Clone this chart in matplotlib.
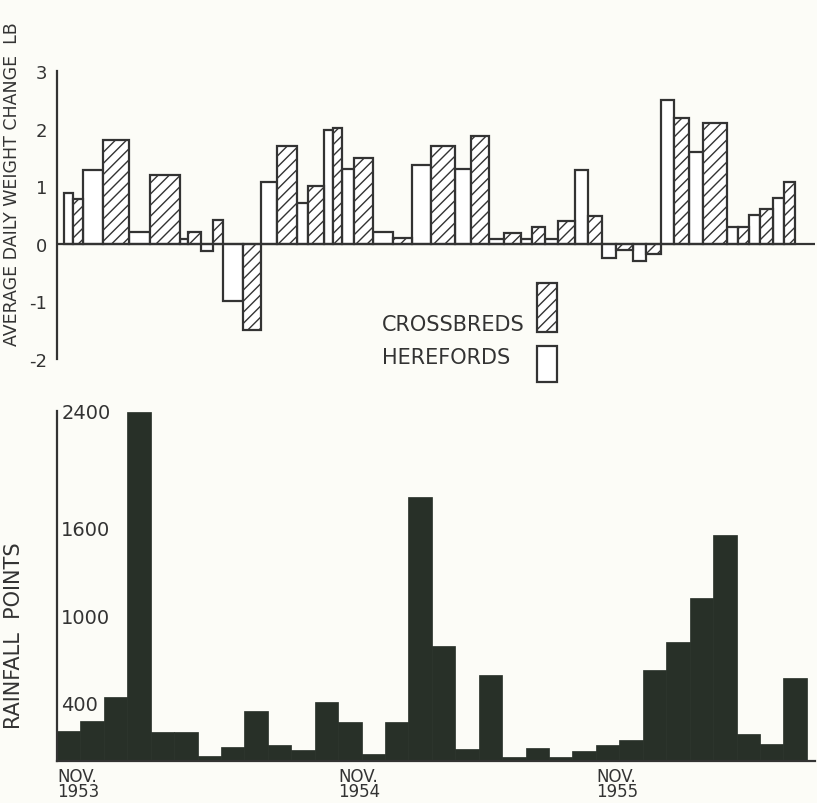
"""
Weight change of Herefords and Crossbreds vs monthly rainfall, Nov 1953 - Jun 1956.
Top: average daily weight change per weighing interval (white = Herefords, hatched = Crossbreds)
Bottom: monthly rainfall (points)
"""
import numpy as np
import matplotlib.pyplot as plt
from matplotlib.patches import Rectangle

INK = "#333333"
BAR_DARK = "#283028"
PAPER = "#fcfcf7"

# Weighing intervals, in months counted from 1 Nov 1953
interval_edges = [0.30, 1.09, 3.08, 5.26, 6.15, 7.09, 8.72, 10.26, 11.41, 12.18,
                  13.50, 15.13, 17.00, 18.42, 19.79, 20.81, 22.09, 23.25, 24.57,
                  25.77, 26.97, 28.59, 29.53, 30.56, 31.50]
interval_split = [0.68, 1.97, 3.97, 5.60, 6.67, 7.95, 9.40, 10.73, 11.79, 12.69,
                  14.32, 15.98, 17.65, 19.06, 20.26, 21.37, 22.65, 23.85, 25.13,
                  26.32, 27.56, 29.06, 30.00, 31.03]
herefords = [0.88, 1.28, 0.21, 0.09, -0.13, -1.00, 1.08, 0.71, 1.98, 1.30, 0.20, 1.37,
             1.29, 0.09, 0.08, 0.08, 1.28, -0.24, -0.29, 2.50, 1.59, 0.30, 0.50, 0.79]
crossbreds = [0.78, 1.81, 1.19, 0.20, 0.42, -1.50, 1.69, 1.00, 2.01, 1.49, 0.10, 1.69,
              1.88, 0.19, 0.29, 0.39, 0.48, -0.10, -0.18, 2.18, 2.09, 0.30, 0.61, 1.08]

# Monthly rainfall (points), Nov 1953 onwards
rainfall = [208, 277, 439, 2390, 196, 196, 35, 99, 346, 108, 75, 404,
            266, 51, 266, 1813, 790, 85, 589, 28, 88, 25, 70, 111,
            145, 623, 815, 1115, 1547, 185, 115, 568]
rain_ticks = [400, 1000, 1600, 2400]
month_labels = ["NOV.\n1953", "NOV.\n1954", "NOV.\n1955"]
month_label_pos = [0, 12, 23]

plt.rcParams['font.family'] = ['DejaVu Sans']
plt.rcParams['hatch.linewidth'] = 1.0
plt.rcParams['hatch.color'] = INK

fig = plt.figure(figsize=(8.17, 8.04), dpi=100, facecolor=PAPER)
W, H = 817, 804
xmax = 32.35

# ---------- top panel ----------
ax1 = fig.add_axes([57 / W, 1 - 360 / H, 758 / W, 288 / H], facecolor=PAPER)
edges = np.array(interval_edges)
split = np.array(interval_split)
ax1.bar(edges[:-1], herefords, width=split - edges[:-1], align='edge',
        facecolor='white', edgecolor=INK, linewidth=1.6, zorder=2)
ax1.bar(split, crossbreds, width=edges[1:] - split, align='edge',
        facecolor='white', edgecolor=INK, linewidth=1.6, hatch='///', zorder=2)
ax1.axhline(0, color=INK, linewidth=1.6, zorder=3)
ax1.set_xlim(0, xmax)
ax1.set_ylim(-2, 3)
ax1.set_xticks([])
ax1.set_yticks([3, 2, 1, 0, -1, -2])
ax1.set_yticklabels(["3", "2", "1", "0", "-1", "-2"])
ax1.tick_params(axis='y', length=0, pad=7, labelsize=13, labelcolor=INK)
for s in ['top', 'right', 'bottom']:
    ax1.spines[s].set_visible(False)
ax1.spines['left'].set_color(INK)
ax1.spines['left'].set_linewidth(1.6)
ax1.set_ylabel("AVERAGE DAILY WEIGHT CHANGE  LB", fontsize=12.5, color=INK)
ax1.yaxis.set_label_coords(-0.047, 0.61)

# legend
ax1.add_patch(Rectangle((0.633, 0.094), 0.026, 0.17, transform=ax1.transAxes,
                        facecolor='white', edgecolor=INK, linewidth=1.6,
                        hatch='///', clip_on=False))
ax1.add_patch(Rectangle((0.633, -0.08), 0.026, 0.125, transform=ax1.transAxes,
                        facecolor='white', edgecolor=INK, linewidth=1.6,
                        clip_on=False))
ax1.text(0.617, 0.122, "CROSSBREDS", transform=ax1.transAxes, ha='right',
         va='center', fontsize=15, color=INK)
ax1.text(0.598, 0.007, "HEREFORDS", transform=ax1.transAxes, ha='right',
         va='center', fontsize=15, color=INK)

# ---------- bottom panel ----------
ax2 = fig.add_axes([57 / W, 1 - 762 / H, 758 / W, 350 / H], facecolor=PAPER)
ax2.bar(np.arange(len(rainfall)), rainfall, width=1.0, align='edge',
        color=BAR_DARK, edgecolor=BAR_DARK, linewidth=0.5, zorder=2)
ax2.set_xlim(0, xmax)
ax2.set_ylim(0, 2400)
ax2.set_yticks(rain_ticks)
ax2.set_yticklabels([str(t) for t in rain_ticks])
ax2.tick_params(axis='y', length=0, pad=-3, labelsize=14, labelcolor=INK)
for lbl in ax2.get_yticklabels():
    lbl.set_horizontalalignment('left')
ax2.set_xticks(month_label_pos)
ax2.set_xticklabels(month_labels, ha='left', fontsize=12, color=INK,
                    linespacing=0.85)
ax2.tick_params(axis='x', length=0, pad=4)
for s in ['top', 'right']:
    ax2.spines[s].set_visible(False)
for s in ['left', 'bottom']:
    ax2.spines[s].set_color(INK)
    ax2.spines[s].set_linewidth(1.6)
ax2.set_ylabel("RAINFALL  POINTS", fontsize=15, color=INK)
ax2.yaxis.set_label_coords(-0.043, 0.36)

fig.savefig("out.png", dpi=100, facecolor=PAPER)
